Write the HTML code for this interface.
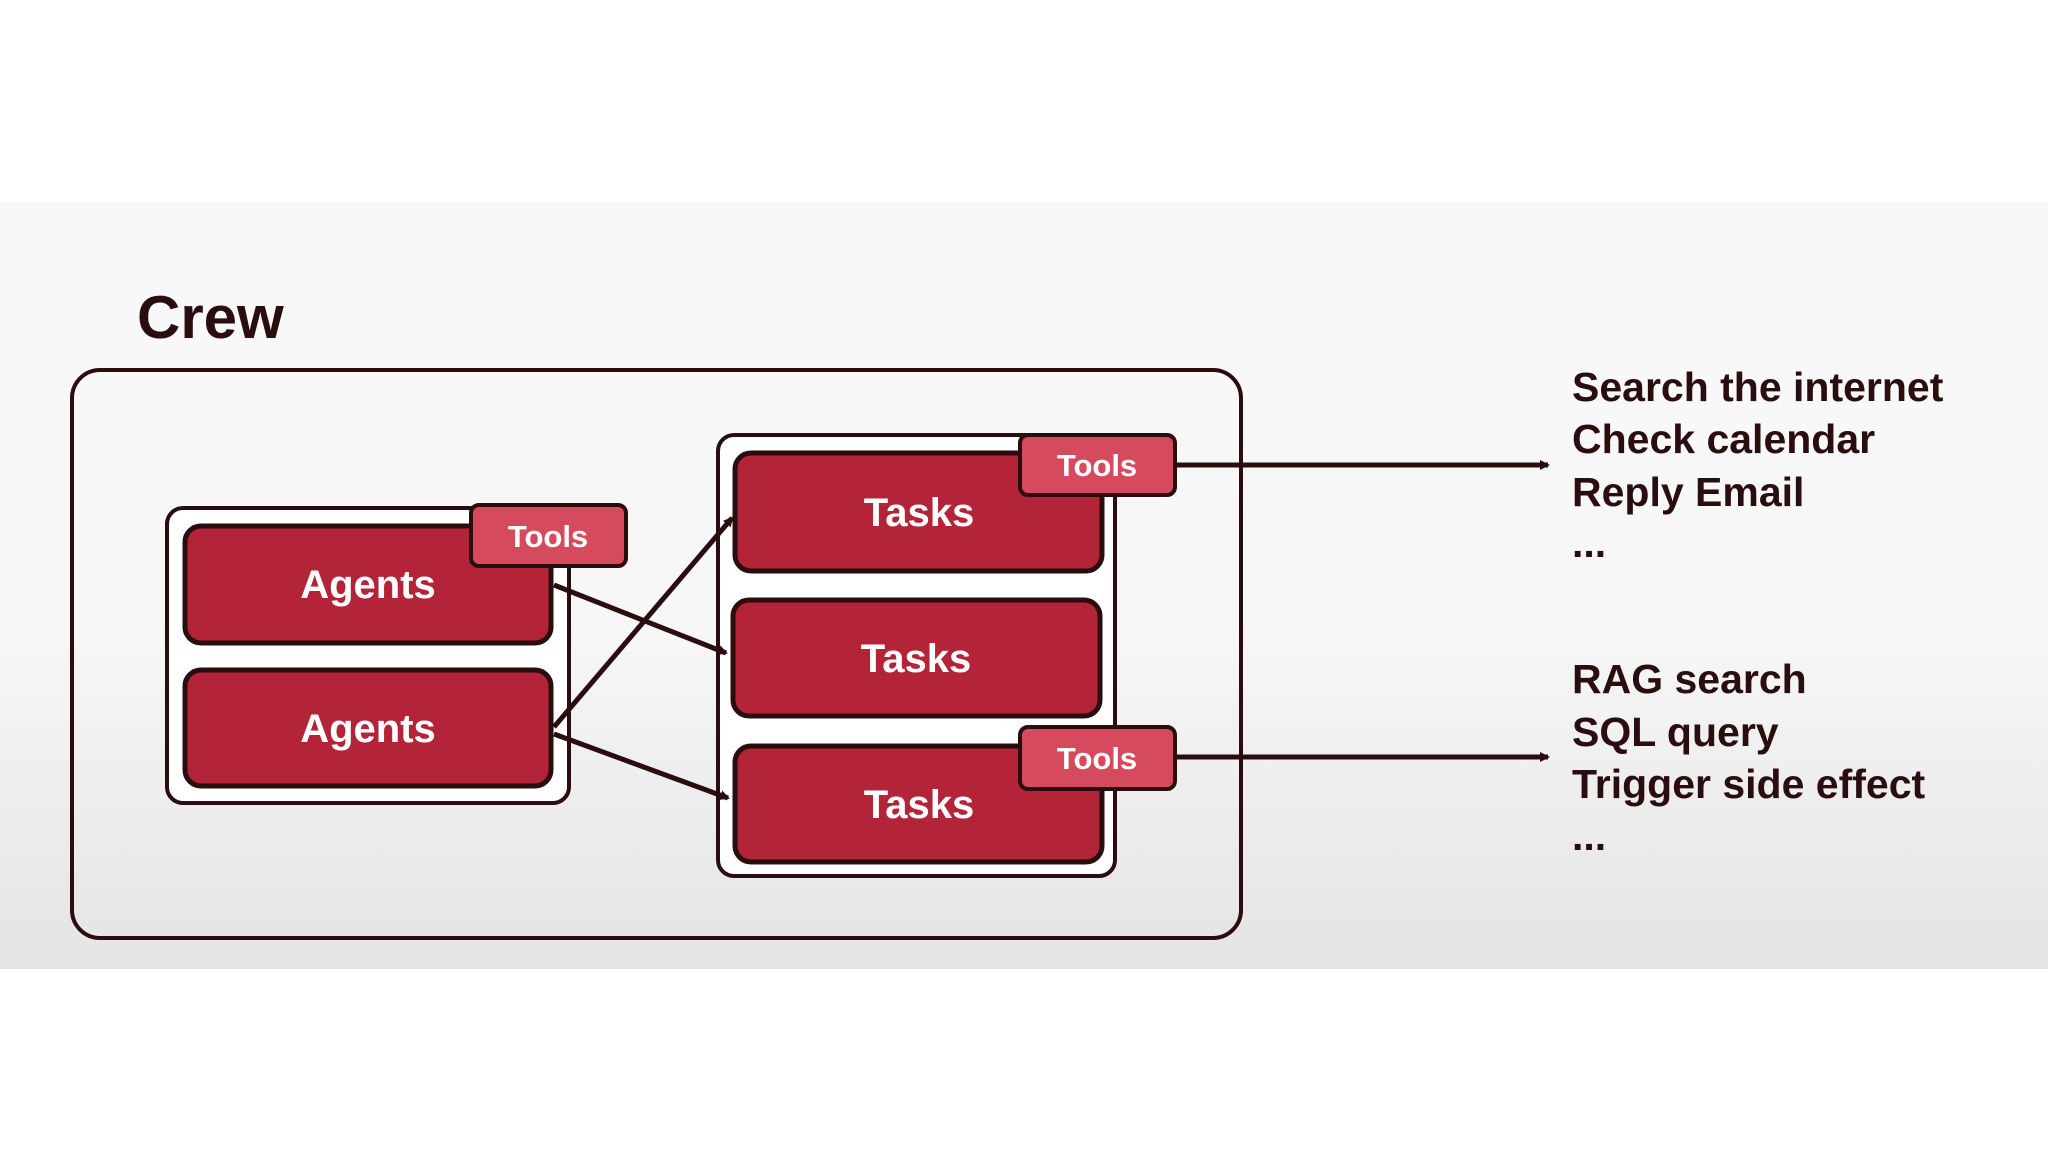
<!DOCTYPE html>
<html><head><meta charset="utf-8"><style>
html,body{margin:0;padding:0;}
body{width:2048px;height:1152px;overflow:hidden;background:#fff;font-family:"Liberation Sans",sans-serif;}
</style></head><body>
<svg width="2048" height="1152" viewBox="0 0 2048 1152" xmlns="http://www.w3.org/2000/svg">
<defs>
<linearGradient id="bg" x1="0" y1="0" x2="0" y2="1">
<stop offset="0" stop-color="#f8f8f8"/><stop offset="0.55" stop-color="#f7f7f7"/><stop offset="1" stop-color="#e4e4e4"/>
</linearGradient>
<marker id="ah" markerWidth="10" markerHeight="10" refX="8" refY="5" orient="auto" markerUnits="userSpaceOnUse" viewBox="0 0 10 10">
<path d="M0,0 L10,5 L0,10 z" fill="#2a0d0f"/>
</marker>
</defs>
<rect x="0" y="202" width="2048" height="767" fill="url(#bg)"/>
<g font-family="Liberation Sans, sans-serif" font-weight="bold" fill="#2a0d0f">
<text x="137" y="338" font-size="60">Crew</text>
</g>
<rect x="72" y="370" width="1169" height="568" rx="28" fill="none" stroke="#2a0d0f" stroke-width="4"/>
<!-- agents group -->
<rect x="167" y="508" width="402" height="295" rx="16" fill="#fff" stroke="#2a0d0f" stroke-width="4"/>
<rect x="185" y="526" width="366" height="117" rx="16" fill="#b42438" stroke="#2a0d0f" stroke-width="5"/>
<rect x="185" y="670" width="366" height="116" rx="16" fill="#b42438" stroke="#2a0d0f" stroke-width="5"/>
<rect x="471" y="505" width="155" height="61" rx="8" fill="#d64a5e" stroke="#2a0d0f" stroke-width="4"/>
<!-- tasks group -->
<rect x="718" y="435" width="397" height="441" rx="16" fill="#fff" stroke="#2a0d0f" stroke-width="4"/>
<rect x="735" y="453" width="367" height="118" rx="16" fill="#b42438" stroke="#2a0d0f" stroke-width="5"/>
<rect x="733" y="600" width="367" height="116" rx="16" fill="#b42438" stroke="#2a0d0f" stroke-width="5"/>
<rect x="735" y="746" width="367" height="116" rx="16" fill="#b42438" stroke="#2a0d0f" stroke-width="5"/>
<rect x="1020" y="435" width="155" height="60" rx="8" fill="#d64a5e" stroke="#2a0d0f" stroke-width="4"/>
<rect x="1020" y="727" width="155" height="62" rx="8" fill="#d64a5e" stroke="#2a0d0f" stroke-width="4"/>
<!-- arrows -->
<g stroke="#2a0d0f" stroke-width="5" fill="none">
<line x1="554" y1="585" x2="726" y2="653" marker-end="url(#ah)"/>
<line x1="554" y1="727" x2="732" y2="518" marker-end="url(#ah)"/>
<line x1="554" y1="734" x2="728" y2="798" marker-end="url(#ah)"/>
<line x1="1175" y1="465" x2="1548" y2="465" marker-end="url(#ah)"/>
<line x1="1175" y1="757" x2="1548" y2="757" marker-end="url(#ah)"/>
</g>
<g font-family="Liberation Sans, sans-serif" font-weight="bold" fill="#fff" text-anchor="middle">
<text x="368" y="598" font-size="40">Agents</text>
<text x="368" y="742" font-size="40">Agents</text>
<text x="919" y="526" font-size="40">Tasks</text>
<text x="916" y="672" font-size="40">Tasks</text>
<text x="919" y="818" font-size="40">Tasks</text>
<text x="548" y="547" font-size="31">Tools</text>
<text x="1097" y="476" font-size="31">Tools</text>
<text x="1097" y="769" font-size="31">Tools</text>
</g>
<g font-family="Liberation Sans, sans-serif" font-weight="bold" fill="#2a0d0f" font-size="41">
<text x="1572" y="401">Search the internet</text>
<text x="1572" y="453">Check calendar</text>
<text x="1572" y="506">Reply Email</text>
<text x="1572" y="557">...</text>
<text x="1572" y="693">RAG search</text>
<text x="1572" y="746">SQL query</text>
<text x="1572" y="798">Trigger side effect</text>
<text x="1572" y="850">...</text>
</g>
</svg>
</body></html>
